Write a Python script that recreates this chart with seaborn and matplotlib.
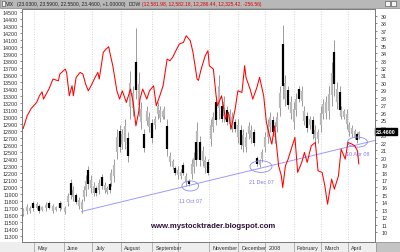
import numpy as np
import pandas as pd
import matplotlib
matplotlib.use("Agg")
import matplotlib.pyplot as plt
import matplotlib.transforms as mtransforms
from matplotlib.patches import Ellipse, Rectangle
import seaborn as sns

# ---------------- data ----------------
holidays = ["2007-05-28", "2007-07-04", "2007-09-03", "2007-11-22", "2007-12-25",
            "2008-01-01", "2008-01-21", "2008-02-18", "2008-03-21"]

dow_dates = ["2007-04-19", "2007-04-24", "2007-04-27", "2007-05-03", "2007-05-07", "2007-05-09",
             "2007-05-10", "2007-05-16", "2007-05-21", "2007-05-25", "2007-05-29", "2007-06-04",
             "2007-06-05", "2007-06-07", "2007-06-11", "2007-06-12", "2007-06-14", "2007-06-19",
             "2007-06-21", "2007-06-25", "2007-06-27", "2007-06-29", "2007-07-05", "2007-07-09",
             "2007-07-10", "2007-07-13", "2007-07-17", "2007-07-19", "2007-07-20", "2007-07-24",
             "2007-07-27", "2007-07-31", "2007-08-02", "2007-08-07", "2007-08-10", "2007-08-14",
             "2007-08-16", "2007-08-20", "2007-08-21", "2007-08-23", "2007-08-28", "2007-08-30",
             "2007-09-05", "2007-09-07", "2007-09-12", "2007-09-14", "2007-09-19", "2007-09-21",
             "2007-09-25", "2007-09-28", "2007-10-02", "2007-10-05", "2007-10-09", "2007-10-12",
             "2007-10-16", "2007-10-19", "2007-10-22", "2007-10-24", "2007-10-29", "2007-10-31",
             "2007-11-01", "2007-11-06", "2007-11-08", "2007-11-09", "2007-11-14", "2007-11-19",
             "2007-11-21", "2007-11-26", "2007-11-29", "2007-12-03", "2007-12-06", "2007-12-10",
             "2007-12-11", "2007-12-14", "2007-12-18", "2007-12-21", "2007-12-26", "2007-12-31",
             "2008-01-03", "2008-01-08", "2008-01-09", "2008-01-11", "2008-01-16", "2008-01-18",
             "2008-01-22", "2008-01-24", "2008-01-28", "2008-01-31", "2008-02-04", "2008-02-06",
             "2008-02-11", "2008-02-13", "2008-02-15", "2008-02-21", "2008-02-26", "2008-02-28",
             "2008-03-04", "2008-03-06", "2008-03-10", "2008-03-13", "2008-03-17", "2008-03-20",
             "2008-03-25", "2008-03-28", "2008-04-01", "2008-04-04", "2008-04-08", "2008-04-10",
             "2008-04-11"]
dow_close = [12830, 13015, 13120, 13205, 13300, 13357,
             13253, 13396, 13539, 13514, 13610, 13681,
             13634, 13300, 13443, 13300, 13563, 13634,
             13610, 13467, 13371, 13443, 13563, 13634,
             13539, 13920, 13967, 14000, 13900, 13729,
             13371, 13253, 13371, 13205, 13396, 13205,
             12871, 13063, 13253, 13396, 13253, 13371,
             13443, 13157, 13324, 13443, 13824, 13800,
             13848, 13967, 14039, 14063, 14157, 14086,
             13920, 13539, 13520, 13681, 13872, 13943,
             13729, 13681, 13300, 13157, 13300, 12967,
             13063, 12824, 13110, 13371, 13348, 13729,
             13563, 13396, 13253, 13419, 13563, 13300,
             12919, 12681, 12610, 12871, 12300, 12157,
             11991, 12300, 12396, 12586, 12706, 12206,
             12349, 12491, 12349, 12586, 12634, 12229,
             12206, 12014, 11753, 12110, 11967, 12157,
             12539, 12396, 12634, 12610, 12586, 12514,
             12325]

vix_dates = ["2007-04-19", "2007-04-24", "2007-04-26", "2007-04-30", "2007-05-03", "2007-05-07",
             "2007-05-09", "2007-05-14", "2007-05-16", "2007-05-21", "2007-05-23", "2007-05-29",
             "2007-05-30", "2007-06-04", "2007-06-06", "2007-06-08", "2007-06-12", "2007-06-14",
             "2007-06-18", "2007-06-20", "2007-06-22", "2007-06-25", "2007-06-27", "2007-06-29",
             "2007-07-03", "2007-07-06", "2007-07-10", "2007-07-12", "2007-07-16", "2007-07-18",
             "2007-07-20", "2007-07-23", "2007-07-25", "2007-07-27", "2007-07-31", "2007-08-02",
             "2007-08-06", "2007-08-08", "2007-08-10", "2007-08-14", "2007-08-16", "2007-08-20",
             "2007-08-22", "2007-08-24", "2007-08-28", "2007-08-30", "2007-09-04", "2007-09-06",
             "2007-09-10", "2007-09-12", "2007-09-14", "2007-09-17", "2007-09-19", "2007-09-21",
             "2007-09-25", "2007-09-27", "2007-10-01", "2007-10-03", "2007-10-05", "2007-10-09",
             "2007-10-11", "2007-10-15", "2007-10-17", "2007-10-18", "2007-10-19", "2007-10-23",
             "2007-10-25", "2007-10-29", "2007-10-31", "2007-11-02", "2007-11-06", "2007-11-08",
             "2007-11-12", "2007-11-14", "2007-11-16", "2007-11-20", "2007-11-23", "2007-11-27",
             "2007-11-29", "2007-12-03", "2007-12-05", "2007-12-07", "2007-12-11", "2007-12-13",
             "2007-12-17", "2007-12-19", "2007-12-21", "2007-12-26", "2007-12-28", "2008-01-02",
             "2008-01-04", "2008-01-08", "2008-01-10", "2008-01-11", "2008-01-15", "2008-01-17",
             "2008-01-22", "2008-01-24", "2008-01-28", "2008-01-30", "2008-02-01", "2008-02-05",
             "2008-02-07", "2008-02-11", "2008-02-13", "2008-02-15", "2008-02-20", "2008-02-22",
             "2008-02-26", "2008-02-28", "2008-03-03", "2008-03-05", "2008-03-07", "2008-03-11",
             "2008-03-13", "2008-03-17", "2008-03-19", "2008-03-24", "2008-03-25", "2008-03-27",
             "2008-03-31", "2008-04-02", "2008-04-04", "2008-04-08", "2008-04-10", "2008-04-11"]
vix_high = [13.3, 13.8, 13.5, 14.2, 14.0, 13.8, 13.5, 14.0, 14.2, 13.8, 13.5, 14.2,
            14.0, 13.5, 15.3, 17.1, 16.2, 15.3, 14.7, 14.4, 16.2, 17.6, 18.9, 17.6,
            16.7, 16.2, 17.1, 17.8, 16.7, 16.2, 16.7, 18.5, 19.8, 23.8, 24.3, 23.8,
            25.2, 23.4, 31.6, 29.6, 37.4, 31.4, 27.4, 23.8, 26.9, 26.1, 25.2, 25.6,
            27.4, 26.9, 26.5, 26.9, 25.2, 20.7, 19.8, 18.9, 18.9, 18.5, 19.4, 18.0,
            17.1, 19.8, 20.7, 22.9, 24.7, 22.9, 21.6, 20.2, 19.8, 25.2, 26.1, 28.3,
            31.0, 27.4, 28.3, 26.9, 26.5, 26.1, 25.2, 25.2, 24.3, 23.8, 23.4, 24.7,
            24.3, 23.8, 20.2, 19.8, 21.1, 23.4, 25.2, 26.1, 25.6, 24.7, 26.1, 29.6,
            37.7, 31.0, 29.6, 28.3, 27.4, 28.7, 29.6, 29.6, 26.9, 26.1, 25.6, 25.6,
            24.3, 23.8, 26.9, 27.8, 28.3, 29.6, 32.8, 35.7, 30.1, 29.6, 26.9, 26.5,
            26.5, 24.7, 24.3, 23.8, 23.4, 23.59]
vix_low = [12.2, 12.4, 12.6, 12.9, 13.1, 12.6, 12.9, 12.9, 13.1, 12.6, 12.9, 12.9,
           13.1, 12.4, 13.5, 14.4, 14.2, 13.8, 13.1, 12.6, 14.2, 14.9, 15.8, 15.3,
           14.9, 14.9, 15.1, 15.8, 15.3, 15.1, 15.3, 16.2, 16.7, 19.8, 20.7, 21.1,
           21.1, 19.4, 25.2, 25.6, 27.8, 25.6, 23.8, 20.7, 24.3, 23.4, 22.0, 23.8,
           25.2, 24.7, 25.2, 25.2, 20.2, 18.9, 18.5, 17.6, 17.1, 17.1, 17.6, 16.2,
           16.2, 17.1, 18.0, 18.9, 19.8, 18.9, 18.9, 18.0, 17.6, 21.6, 23.4, 24.3,
           25.2, 24.7, 24.7, 24.3, 23.8, 23.4, 23.4, 22.0, 21.1, 20.7, 20.7, 22.5,
           22.0, 21.6, 18.9, 18.7, 19.4, 20.7, 22.0, 23.4, 22.9, 22.0, 23.4, 25.6,
           27.8, 26.9, 26.5, 25.2, 23.8, 25.6, 27.4, 26.9, 24.3, 23.4, 23.8, 22.5,
           22.0, 22.0, 23.4, 25.2, 25.2, 25.2, 26.9, 28.3, 26.5, 25.6, 25.2, 25.2,
           23.8, 22.9, 22.7, 22.5, 22.0, 22.55]
vix_open = [12.5, 12.8, 12.8, 13.9, 13.3, 13.5, 13.0, 13.2, 13.9, 12.9, 13.0, 13.9,
            13.3, 12.7, 14.0, 16.6, 14.7, 15.0, 13.5, 13.1, 14.7, 15.6, 18.3, 15.9,
            15.3, 15.9, 15.6, 17.4, 15.7, 15.4, 16.4, 16.8, 17.5, 20.8, 23.6, 21.8,
            22.1, 22.6, 26.8, 26.6, 32.8, 27.1, 24.7, 23.2, 24.9, 24.1, 24.6, 24.3,
            25.8, 25.3, 25.5, 25.6, 24.2, 19.4, 18.8, 18.6, 17.6, 17.5, 19.0, 16.7,
            16.9, 17.8, 18.7, 22.1, 21.0, 22.1, 19.6, 18.6, 19.4, 22.5, 24.1, 27.5,
            26.7, 26.9, 25.6, 26.4, 24.5, 24.1, 24.8, 22.8, 23.7, 21.5, 21.4, 23.1,
            22.6, 23.4, 20.0, 19.0, 19.8, 21.4, 22.8, 24.1, 25.1, 22.7, 24.1, 26.6,
            35.2, 27.9, 29.0, 26.0, 24.7, 26.4, 29.2, 27.6, 24.9, 25.6, 24.3, 25.0,
            22.6, 22.5, 24.3, 25.8, 26.0, 26.3, 28.4, 34.2, 27.4, 28.8, 25.6, 25.5,
            24.5, 23.4, 23.1, 22.8, 23.1, 23.03]
vix_close = [13.0, 13.4, 13.3, 13.2, 13.8, 12.9, 13.4, 13.7, 13.3, 13.5, 13.4, 13.2,
             13.8, 13.2, 14.9, 15.0, 15.7, 14.1, 14.3, 14.0, 15.7, 16.9, 16.4, 17.0,
             16.2, 15.2, 16.6, 16.2, 16.3, 15.9, 15.6, 17.9, 19.0, 22.8, 21.4, 23.1,
             24.2, 20.2, 30.0, 28.6, 29.0, 29.9, 26.5, 21.3, 26.3, 25.4, 22.6, 25.2,
             26.9, 26.4, 26.2, 26.5, 21.2, 20.2, 19.5, 17.9, 18.4, 18.1, 18.0, 17.5,
             16.4, 19.1, 20.0, 19.7, 23.5, 19.7, 20.9, 19.7, 18.0, 24.3, 25.4, 25.1,
             29.6, 25.2, 27.4, 24.8, 25.8, 25.4, 23.8, 24.4, 21.7, 23.0, 22.7, 24.2,
             23.7, 22.0, 19.2, 19.5, 20.7, 22.7, 24.4, 25.4, 23.4, 24.0, 25.4, 28.6,
             29.6, 30.0, 27.1, 27.5, 26.5, 27.9, 27.8, 28.9, 26.3, 23.9, 25.2, 23.1,
             23.7, 23.4, 26.0, 27.2, 27.5, 28.5, 31.3, 29.8, 29.2, 26.4, 26.5, 26.2,
             25.8, 24.3, 23.9, 23.5, 22.3, 23.46]

trend_dates = ["2007-06-20", "2008-04-11"]
trend_values = [12.78, 21.77]

month_labels = ["May", "June", "July", "August", "September", "", "November",
                "December", "2008", "February", "March", "April"]

notes = [("11 Oct 07", "2007-10-12", 16.2, 12.3, 1.35, 14.2),
         ("21 Dec 07", "2007-12-27", 18.8, 16.2, 1.57, 16.85),
         ("10 Apr 08", "2008-04-10", 22.07, 14.7, 1.34, 20.6)]

# ---------------- trading calendar ----------------
cal = pd.bdate_range("2007-04-19", "2008-05-30")
cal = cal[~cal.isin(pd.to_datetime(holidays))]


def tpos(dates):
    return cal.get_indexer(pd.to_datetime(dates)).astype(float)


dow_x = tpos(dow_dates)
vix_x = tpos(vix_dates)
vo, vh, vl, vc = map(np.array, (vix_open, vix_high, vix_low, vix_close))

# ---------------- figure ----------------
sns.set_style("white")
plt.rcParams["font.family"] = ["Liberation Sans", "DejaVu Sans"]

fig = plt.figure(figsize=(4.0, 2.53), dpi=100)
fig.patch.set_facecolor("white")
L, R, B, T = 22 / 400, 375 / 400, 1 - 242.5 / 253, 1 - 10 / 253
ax = fig.add_axes([L, B, R - L, T - B])
ax2 = ax.twinx()

xmin, xmax = -0.8, 258.9
ax.set_xlim(xmin, xmax)
ax.set_ylim(8.76, 39.9)

# month grid
first_days = pd.Series(cal, index=cal).groupby([cal.year, cal.month]).first()
first_days = first_days[(first_days >= "2007-05-01") & (first_days <= "2008-04-30")]
month_x = tpos(first_days.values)
for mx in month_x:
    ax.axvline(mx, color="#c8c8c8", lw=0.6, ls=(0, (1, 2)), zorder=0)

# VIX candlesticks
down = vc < vo
ax.vlines(vix_x, vl, vh, color="#8c8c8c", lw=0.6, zorder=2)
body_lo = np.minimum(vo, vc)
body_hi = np.maximum(vo, vc)
ax.vlines(vix_x[~down], body_lo[~down], body_hi[~down], color="#b8b8b8", lw=1.6, zorder=3)
ax.vlines(vix_x[down], body_lo[down], body_hi[down], color="black", lw=1.6, zorder=3)

# trend line (extended to right edge)
tx = tpos(trend_dates)
slope = (trend_values[1] - trend_values[0]) / (tx[1] - tx[0])
ax.plot([tx[0], xmax], [trend_values[0], trend_values[0] + slope * (xmax - tx[0])],
        color="#9a9aff", lw=0.7, zorder=4)

for text, d, cy, w, h, ty in notes:
    cx = tpos([d])[0]
    ax.add_patch(Ellipse((cx, cy), w, h, fill=False, ec="#8c8cf0", lw=0.6, zorder=5))
    ax.text(cx + 0.5, ty, text, color="#7c7ce8", fontsize=3.9, ha="center", va="center", zorder=5)

# Dow line
sns.lineplot(x=dow_x, y=dow_close, ax=ax2, color="#ff0000", lw=0.75, zorder=6)
ax2.set_ylim(11220, 14539)
ax2.set_xlim(xmin, xmax)

# axes styling
ax.yaxis.tick_right()
ax2.yaxis.tick_left()
ax.set_yticks(np.arange(10, 40, 1))
ax.set_yticklabels([str(v) for v in range(10, 40)])
ax2.set_yticks(np.arange(11300, 14600, 100))
ax2.set_yticklabels([str(v) for v in range(11300, 14600, 100)])
ax.tick_params(axis="y", labelsize=3.9, length=1.5, width=0.4, pad=3, colors="#333333", right=True, left=False)
ax2.tick_params(axis="y", labelsize=3.9, length=1.5, width=0.4, pad=1.2, colors="#333333", left=True, right=False)
ax.set_xticks([])
ax2.set_xticks([])
for a in (ax, ax2):
    for s in a.spines.values():
        s.set_color("#7a7a7a")
        s.set_linewidth(0.6)
ax.set_ylabel("")
ax2.set_ylabel("")

# bottom strip (date axis)
strip = Rectangle((0, 0), 1, B, transform=fig.transFigure, fc="#eeeeee", ec="none", zorder=-1)
fig.patches.append(strip)
corner = Rectangle((R + 0.002, 0), 1 - R, B, transform=fig.transFigure, fc="#c4c4c4", ec="#888888", lw=0.5)
fig.patches.append(corner)
trans = mtransforms.blended_transform_factory(ax.transData, fig.transFigure)
for mx, lab in zip(month_x, month_labels):
    ax.plot([mx, mx], [0, B], transform=trans, color="#9a9a9a", lw=0.5, clip_on=False)
    ax.text(mx + 2.5, B * 0.45, lab, transform=trans, fontsize=3.9, color="#333333",
            ha="left", va="center", clip_on=False)

# header bar
head = Rectangle((0, T + 0.003), 1, 1 - T, transform=fig.transFigure, fc="#b8b8b8", ec="#888888", lw=0.5)
fig.patches.append(head)
fig.patches.append(Rectangle((0.004, 0.972), 0.008, 0.02, transform=fig.transFigure,
                             fc="#f4f4f4", ec="#444444", lw=0.4))
fig.patches.append(Rectangle((0.962, 0.972), 0.012, 0.02, transform=fig.transFigure,
                             fc="#f4f4f4", ec="#444444", lw=0.4))
fig.patches.append(Rectangle((0.978, 0.972), 0.012, 0.02, transform=fig.transFigure,
                             fc="#f4f4f4", ec="#444444", lw=0.4))
fig.text(0.016, 0.982, "VIX", fontsize=3.6, color="#222222", ha="left", va="center")
fig.text(0.042, 0.982, "(23.0300, 23.5900, 22.5500, 23.4600, +1.00000)", fontsize=3.6,
         color="#222222", ha="left", va="center")
fig.text(0.322, 0.982, "DOW", fontsize=3.6, color="#222222", ha="left", va="center")
fig.text(0.356, 0.982, "(12,581.98, 12,582.18, 12,286.44, 12,325.42, -256.56)", fontsize=3.6,
         color="#dd0000", ha="left", va="center")

# last value tag
ax.text(1.003, 23.46, "23.4600", transform=mtransforms.blended_transform_factory(ax.transAxes, ax.transData),
        fontsize=3.9, color="white", ha="left", va="center", fontweight="bold",
        bbox=dict(boxstyle="square,pad=0.15", fc="black", ec="black"), zorder=10, clip_on=False)

# watermark
fig.text(0.375, 0.103, "www.mystocktrader.blogspot.com", fontsize=5.6, fontweight="bold",
         color="#2e1038", ha="left", va="center")

fig.savefig("out.png", dpi=100)
